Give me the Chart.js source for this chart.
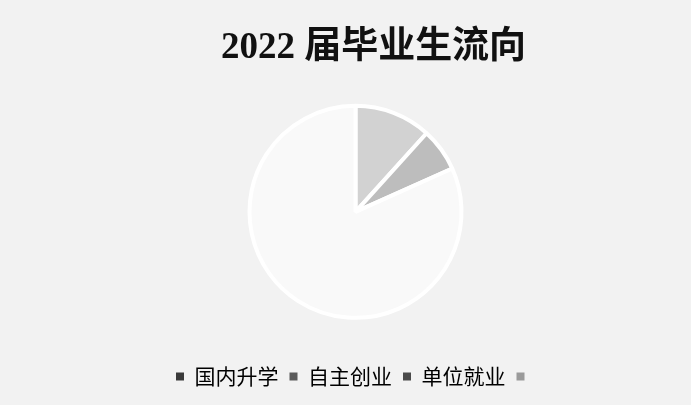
<!DOCTYPE html>
<html>
<head>
<meta charset="utf-8">
<script src="https://cdn.jsdelivr.net/npm/chart.js@4"></script>
<style>
  html, body { margin: 0; padding: 0; background: #f2f2f2; }
  #wrap { width: 691px; height: 405px; }
</style>
</head>
<body>
<div id="wrap"><canvas id="pie" width="691" height="405"></canvas></div>
<script>
// 2022 届毕业生流向 (percent)
const categories = ['国内升学', '自主创业', '单位就业', ''];
const shares = [11.7, 6.6, 81.7, 0];

const sliceColors = ['#d2d2d2', '#bdbdbd', '#f9f9f9', '#bdbdbd'];
const swatchColors = ['#3a3a3a', '#5a5a5a', '#4a4a4a', '#9a9a9a'];

let pie = document.getElementById("pie");

// title sits a bit right of the pie in the original
const titleShift = {
  id: 'titleShift',
  afterLayout(chart) {
    chart.titleBlock.left += 18;
    chart.titleBlock.right += 18;
  }
};

const dataPie = {
  labels: categories,
  datasets: [
    {
      label: '2022 届毕业生流向',
      data: shares,
      backgroundColor: sliceColors,
      borderColor: '#ffffff',
      borderWidth: 4
    }
  ]
};

const configPie = {
  type: 'pie',
  data: dataPie,
  plugins: [titleShift],
  options: {
    responsive: false,
    animation: false,
    radius: 106,
    layout: {
      padding: { top: 20, bottom: 8, left: 20, right: 0 }
    },
    plugins: {
      title: {
        display: true,
        text: '2022 届毕业生流向',
        color: '#111111',
        font: { family: "'Liberation Serif', 'Noto Sans CJK SC'", size: 37, weight: 'bold', lineHeight: 1.1 },
        padding: { top: 8, bottom: 0 }
      },
      legend: {
        position: 'bottom',
        labels: {
          boxWidth: 8,
          boxHeight: 8,
          padding: 11,
          color: '#111111',
          font: { family: "'Noto Sans CJK SC'", size: 21 },
          generateLabels: function (chart) {
            return chart.data.labels.map(function (lab, i) {
              return {
                text: lab,
                fillStyle: swatchColors[i],
                strokeStyle: swatchColors[i],
                lineWidth: 0,
                hidden: false,
                index: i
              };
            });
          }
        }
      },
      tooltip: { enabled: false }
    }
  }
};

let pieChart = new Chart(pie, configPie);
</script>
</body>
</html>
